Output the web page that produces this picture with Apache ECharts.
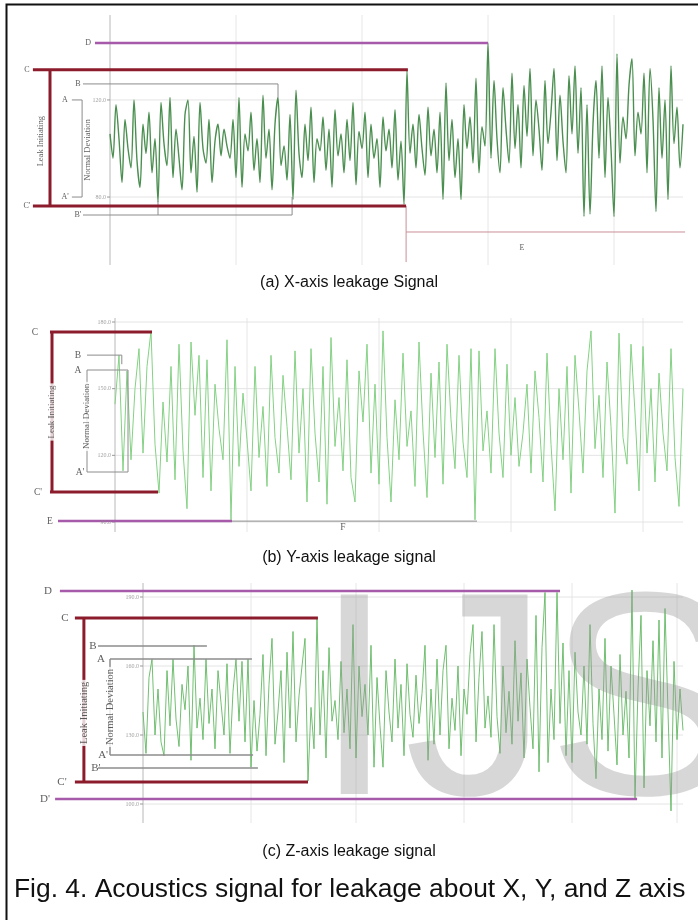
<!DOCTYPE html>
<html>
<head>
<meta charset="utf-8">
<script src="https://cdn.jsdelivr.net/npm/echarts@6/dist/echarts.min.js"></script>
<style>
html, body { margin: 0; padding: 0; background: #fff; }
#main { width: 698px; height: 920px; }
</style>
</head>
<body>
<div id="main"></div>
<script>
// signals, one value per sample
const xSignal = [
  106, 96, 118, 104, 86, 112, 100, 92, 120, 95, 84, 110, 98, 115, 90, 104, 78, 119, 102, 93,
  121, 88, 108, 96, 83, 114, 120, 90, 105, 82, 119, 100, 94, 112, 86, 103, 110, 97, 108, 101,
  96, 112, 88, 121, 84, 106, 99, 115, 91, 104, 86, 122, 96, 108, 83, 110, 121, 93, 101, 87,
  114, 79, 124, 98, 88, 110, 95, 117, 86, 104, 99, 113, 91, 108, 84, 116, 97, 106, 90, 112,
  95, 119, 85, 107, 100, 115, 88, 110, 96, 104, 84, 113, 99, 108, 92, 116, 87, 103, 77,
  132,
  98, 110, 92, 114, 100, 89, 117, 97, 108, 90, 115, 79, 127, 95, 112, 88, 104, 79, 118, 100,
  113, 94, 129, 90, 109, 101,
  143.5,
  96, 128, 104, 90, 125, 108, 94, 131, 100, 118, 92, 126, 105, 133, 97, 120, 108, 91, 128, 102,
  115, 133, 95, 122, 103, 90, 130, 106, 134, 98, 125,
  72, 118, 73, 110, 128, 96, 134, 88, 121, 100, 72, 139, 94, 113, 104, 126, 137, 97, 115,
  106, 131, 90, 133, 112, 74, 125, 96, 120, 79, 134, 102, 117, 92, 110
]
const ySignal = [
  143, 165, 113, 158, 118, 150, 168, 121, 160, 176,
  125, 103, 144, 117, 160, 109, 170, 122, 96, 171,
  138, 165, 110, 163, 104, 152, 132, 118, 172, 91,
  160, 115, 148, 127, 104, 160, 119, 142, 106, 165,
  128, 112, 156, 133, 109, 167, 121, 150, 99, 168,
  130, 108, 160, 98, 173, 124, 146, 113, 163, 110,
  99, 158, 135, 170, 112, 152, 107, 176, 128, 99,
  145, 118, 166, 124, 140, 106, 171, 131, 101, 157,
  119, 162, 107, 170, 136, 114, 165, 126, 110, 168,
  91, 167, 122, 140, 112, 168, 130, 110, 161, 120,
  146, 115, 130, 152, 112, 158, 137, 108, 166, 125,
  95, 150, 118, 160, 103, 165, 140, 112, 158, 176,
  123, 147, 110, 162, 133, 94, 175, 128, 116, 170,
  139, 104, 169, 121, 150, 108, 157, 130, 113, 168,
  119, 97, 150
]
const zSignal = [
  140, 122, 155, 163, 130, 150, 127, 121, 158, 134,
  163, 137, 125, 152, 141, 160, 119, 169, 133, 146,
  128, 163, 135, 150, 124, 158, 144, 130, 161, 122,
  149, 163, 136, 162, 127, 163, 116, 145, 123, 139,
  165, 121, 152, 172, 126, 140, 158, 118, 166, 133,
  175, 127, 147, 160, 172, 110, 142, 124, 181, 130,
  158, 120, 168, 136, 145, 128, 162, 131, 150, 124,
  178, 120, 160, 138, 152, 130, 169, 116, 155, 134,
  116, 158, 140, 127, 163, 133, 152, 121, 161, 139,
  129, 156, 135, 148, 169, 119, 150, 126, 163, 130,
  158, 169, 124, 146, 132, 160, 121, 150, 139, 165,
  178, 127, 155, 175, 133, 147, 129, 178, 138, 122,
  160, 131, 149, 126, 171, 136, 157, 120, 163, 142,
  124, 182, 114, 168, 192, 118, 150, 128, 192, 135,
  170, 121, 158, 118, 166, 140, 130, 160, 126, 178,
  135, 111, 150, 128, 172, 123, 160, 139, 117, 165,
  130, 149, 120, 193, 102, 150, 182, 107, 158, 134,
  171, 127, 180, 120, 185, 140, 97, 162, 128, 150,
  132
]

// y tick labels
const xTicks = [80, 120]
const yTicks = [90, 120, 150, 180]
const zTicks = [100, 130, 160, 190]

// vertical grid lines (sample index)
const xGridX = [42, 84, 126, 168]
const yGridX = [33, 66, 99, 132]
const zGridX = [36, 71, 107, 143, 178]

// annotation lines, [sample, value] points
const xPurple = [[[-5, 143.5], [126, 143.5]]]
const xRed = [
  [[-25.7, 132.4], [99.3, 132.4]],
  [[-25.7, 76.3], [98.7, 76.3]],
  [[-20, 132.4], [-20, 76.3]]
]
const xGray = [
  [[-9, 126.6], [56, 126.6], [56, 121]],
  [[-12.7, 120], [-9.3, 120], [-9.3, 80], [-12.7, 80]],
  [[-9, 72.6], [60.7, 72.6], [60.7, 80]],
  [[16, 72.6], [16, 78.5]]
]
const xPink = [
  [[98.7, 76.3], [98.7, 53.2]],
  [[98.7, 65.6], [191.7, 65.6]]
]
const xLabels = [
  ['D', -7.3, 143.5], ['C', -27.7, 132.4], ["C'", -27.7, 76.3],
  ['B', -10.7, 126.6], ['A', -15, 120], ["A'", -15, 80], ["B'", -10.7, 72.6],
  ['E', 137.3, 59]
]
const xSide = [['Leak Initiating', -23, 103], ['Normal Deviation', -7.3, 99.4]]

const yPurple = [[[-14.25, 90.4], [29.25, 90.4]]]
const yRed = [
  [[-16.25, 175.5], [9.25, 175.5]],
  [[-16.25, 103.5], [10.75, 103.5]],
  [[-15.75, 175.5], [-15.75, 103.5]]
]
const yGray = [
  [[-7, 165.1], [1.7, 165.1], [1.7, 161]],
  [[-7, 158.4], [3.25, 158.4], [3.25, 112.5], [-7, 112.5], [-7, 158.4]],
  [[29.25, 90.4], [90.5, 90.4]]
]
const yLabels = [
  ['C', -20, 175.5], ["C'", -19.25, 103.5], ['B', -9.25, 165.1], ['A', -9.25, 158.4],
  ["A'", -8.75, 112.5], ['E', -16.25, 90.4], ['F', 57, 87.7]
]
const ySide = [['Leak Initiating', -15.75, 139.5], ['Normal Deviation', -7, 137.5]]

const zPurple = [
  [[-27.7, 192.6], [139, 192.6]],
  [[-29.3, 102.2], [164.7, 102.2]]
]
const zRed = [
  [[-22.7, 180.9], [58.3, 180.9]],
  [[-22.7, 109.6], [55, 109.6]],
  [[-19.7, 180.9], [-19.7, 109.6]]
]
const zGray = [
  [[-15, 168.7], [21.3, 168.7]],
  [[-11, 163], [36.3, 163]],
  [[-11, 121.3], [36.7, 121.3]],
  [[-11, 163], [-11, 121.3]],
  [[-15, 115.7], [38.3, 115.7]]
]
const zLabels = [
  ['D', -31.7, 192.6], ['C', -26, 180.9], ['B', -16.7, 168.7], ['A', -14, 163],
  ["A'", -13.3, 121.3], ["B'", -15.7, 115.7], ["C'", -27, 109.6], ["D'", -32.7, 102.2]
]
const zSide = [['Leak Initiating', -19.7, 139.6], ['Normal Deviation', -11, 142.2]]

const panels = [
  { grid: { left: 5, right: 0, top: 15, height: 250 }, xMin: -35, xMax: 196, yMin: 52, yMax: 155,
    signal: xSignal, ticks: xTicks, gridX: xGridX, color: '#4a8f4f', width: 1.4, smooth: 0.3,
    purple: xPurple, red: xRed, gray: xGray, pink: xPink, labels: xLabels, side: xSide,
    font: 8, sideFont: 8.5, gap: false, grayW: 1 },
  { grid: { left: 5, right: 0, top: 318, height: 214 }, xMin: -27.5, xMax: 145.75, yMin: 85.5, yMax: 181.8,
    signal: ySignal, ticks: yTicks, gridX: yGridX, color: '#84d184', width: 1, smooth: false,
    purple: yPurple, red: yRed, gray: yGray, pink: [], labels: yLabels, side: ySide,
    font: 9.5, sideFont: 9, gap: true, grayW: 1 },
  { grid: { left: 5, right: 0, top: 583, height: 240 }, xMin: -46, xMax: 185, yMin: 91.74, yMax: 196.09,
    signal: zSignal, ticks: zTicks, gridX: zGridX, color: '#62b862', width: 0.9, smooth: false,
    purple: zPurple, red: zRed, gray: zGray, pink: [], labels: zLabels, side: zSide,
    font: 11, sideFont: 10.5, gap: true, grayW: 1.5 }
]

function segs(g, list, color, width, z) {
  return list.map(pts => ({
    type: 'line', xAxisIndex: g, yAxisIndex: g, data: pts, symbol: 'none',
    silent: true, z: z, lineStyle: { color: color, width: width }
  }))
}

const grids = [], xAxes = [], yAxes = [], series = []
panels.forEach((p, g) => {
  grids.push(Object.assign({ containLabel: false, outerBoundsMode: 'none' }, p.grid))
  xAxes.push({ gridIndex: g, type: 'value', min: p.xMin, max: p.xMax, show: false })
  yAxes.push({ gridIndex: g, type: 'value', min: p.yMin, max: p.yMax, show: false })
  const last = p.signal.length - 1
  const tickLen = 3 * (p.xMax - p.xMin) / 693
  // light grid lines, axis line and ticks
  series.push(...segs(g, p.gridX.map(x => [[x, p.yMin], [x, p.yMax]]), '#e6e6e6', 1, 1))
  series.push(...segs(g, p.ticks.map(t => [[0, t], [last, t]]), '#e4e4e4', 1, 1))
  series.push(...segs(g, [[[0, p.yMin], [0, p.yMax]]], '#b8b8b8', 1, 1))
  series.push(...segs(g, p.ticks.map(t => [[-tickLen, t], [0, t]]), '#999', 1, 1))
  series.push({
    type: 'scatter', xAxisIndex: g, yAxisIndex: g, symbolSize: 0, silent: true, z: 6,
    data: p.ticks.map(t => [-tickLen, t]),
    label: { show: true, position: 'left', distance: 1, formatter: d => d.value[1].toFixed(1),
      fontSize: 6, color: '#8a8a8a', fontFamily: 'Liberation Serif' }
  })
  series.push({
    type: 'line', xAxisIndex: g, yAxisIndex: g, data: p.signal.map((v, i) => [i, v]),
    symbol: 'none', smooth: p.smooth, silent: true, z: 2,
    lineStyle: { color: p.color, width: p.width }
  })
  series.push(...segs(g, p.gray, '#8c8c8c', p.grayW, 3))
  series.push(...segs(g, p.pink, '#c98f98', 1, 3))
  series.push(...segs(g, p.purple, '#a65aa9', 2.5, 4))
  series.push(...segs(g, p.red, '#8c1c2c', 3, 4))
  series.push({
    type: 'scatter', xAxisIndex: g, yAxisIndex: g, symbolSize: 0, silent: true, z: 6,
    data: p.labels.map(t => ({ value: [t[1], t[2]] , name: t[0] })),
    label: { show: true, position: 'inside', formatter: '{b}', color: '#333',
      fontFamily: 'Liberation Serif', fontSize: p.font }
  })
  series.push({
    type: 'scatter', xAxisIndex: g, yAxisIndex: g, symbolSize: 0, silent: true, z: 6,
    data: p.side.map(t => ({ value: [t[1], t[2]], name: t[0] })),
    label: { show: true, position: 'inside', formatter: '{b}', rotate: 90, color: '#333',
      fontFamily: 'Liberation Serif', fontSize: p.sideFont,
      backgroundColor: p.gap ? '#fff' : 'transparent', padding: p.gap ? [0, 2] : 0 }
  })
})

const captions = [
  ['(a) X-axis leakage Signal', 349, 283],
  ['(b) Y-axis leakage signal', 349, 558],
  ['(c) Z-axis leakage signal', 349, 852]
]
// watermark letters
const mark = [['I', 314], ['J', 404], ['S', 547]]

const chart = echarts.init(document.getElementById('main'), null, { renderer: 'canvas' })
chart.setOption({
  animation: false,
  grid: grids,
  xAxis: xAxes,
  yAxis: yAxes,
  series: series,
  graphic: {
    elements: [
      { type: 'rect', z: 100, silent: true, shape: { x: 6.5, y: 4.5, width: 720, height: 940 },
        style: { fill: 'none', stroke: '#111', lineWidth: 2 } },
      ...mark.map(m => ({ type: 'text', z: 100, silent: true, x: m[1], y: 714,
        style: { text: m[0], font: '290px "Liberation Sans"', fill: 'rgba(150,150,150,0.38)',
          align: 'left', verticalAlign: 'middle' } })),
      ...captions.map(c => ({ type: 'text', z: 100, silent: true, x: c[1], y: c[2],
        style: { text: c[0], font: '16px "Liberation Sans"', fill: '#111', align: 'center', verticalAlign: 'middle' } })),
      { type: 'text', z: 100, silent: true, x: 14, y: 890,
        style: { text: 'Fig. 4. Acoustics signal for leakage about X, Y, and Z axis',
          font: '26.4px "Liberation Sans"', fill: '#111', align: 'left', verticalAlign: 'middle' } }
    ]
  }
})
</script>
</body>
</html>
